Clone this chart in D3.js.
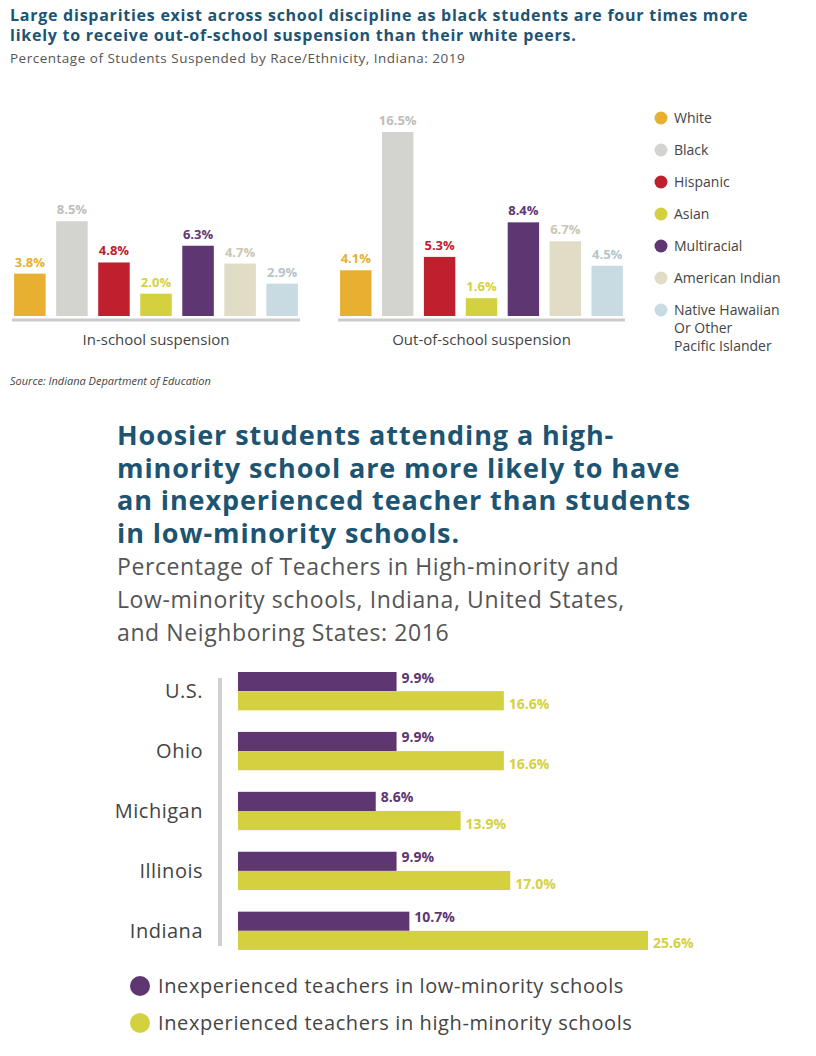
<!DOCTYPE html><html><head><meta charset="utf-8"><script src="https://cdn.jsdelivr.net/npm/d3@7"></script>
<style>body{margin:0;background:#fff}text{font-family:"Open Sans",sans-serif}</style></head><body><svg id="c" width="816" height="1056"></svg>
<script>
const races=["White","Black","Hispanic","Asian","Multiracial","American Indian","Native Hawaiian Or Other Pacific Islander"];
const raceColors=["#e8b030","#d3d3cf","#c0202e","#d4d140","#5e3672","#e0dcc6","#c8dbe2"];
const groups=["In-school suspension","Out-of-school suspension"];
const inSchool=[3.8,8.5,4.8,2.0,6.3,4.7,2.9];
const outSchool=[4.1,16.5,5.3,1.6,8.4,6.7,4.5];
const states=["U.S.","Ohio","Michigan","Illinois","Indiana"];
const lowMinority=[9.9,9.9,8.6,9.9,10.7];
const highMinority=[16.6,16.6,13.9,17.0,25.6];
const seriesNames=["Inexperienced teachers in low-minority schools","Inexperienced teachers in high-minority schools"];
const seriesColors=["#5e3672","#d4d140"];

const svg=d3.select("#c");
const title="#1d5472";
svg.append("text").attr("x",10).attr("y",21).attr("font-size",16).attr("letter-spacing",0.75).attr("font-weight",700).attr("fill",title).text("Large disparities exist across school discipline as black students are four times more");
svg.append("text").attr("x",10).attr("y",41).attr("font-size",16).attr("letter-spacing",0.75).attr("font-weight",700).attr("fill",title).text("likely to receive out-of-school suspension than their white peers.");
svg.append("text").attr("x",10).attr("y",63).attr("font-size",13.5).attr("letter-spacing",0.5).attr("fill","#555").text("Percentage of Students Suspended by Race/Ethnicity, Indiana: 2019");

const y=d3.scaleLinear().domain([0,16.5]).range([316,132]);
[[inSchool,12,300],[outSchool,338,625]].forEach(([vals,x0,x1],gi)=>{
  const x=d3.scaleBand().domain(races).range([x0,x1]).paddingInner(0.25).paddingOuter(0.05);
  const g=svg.append("g");
  g.selectAll("rect").data(vals).join("rect").attr("x",(d,i)=>x(races[i])).attr("width",x.bandwidth())
    .attr("y",d=>y(d)).attr("height",d=>y(0)-y(d)).attr("fill",(d,i)=>raceColors[i]);
  g.selectAll("text.v").data(vals).join("text").attr("x",(d,i)=>x(races[i])+x.bandwidth()/2).attr("y",d=>y(d)-7)
    .attr("text-anchor","middle").attr("font-size",13).attr("font-weight",700).attr("fill",(d,i)=>i==1||i==5||i==6?d3.color(raceColors[i]).darker(0.3):raceColors[i]).text(d=>d.toFixed(1)+"%");
  g.append("line").attr("x1",x0).attr("x2",x1).attr("y1",320).attr("y2",320).attr("stroke","#ccc").attr("stroke-width",3);
  g.append("text").attr("x",(x0+x1)/2).attr("y",345).attr("text-anchor","middle").attr("font-size",15).attr("fill","#444").text(groups[gi]);
});
const lg=svg.append("g");
races.forEach((r,i)=>{
  const cy=118+i*32;
  lg.append("circle").attr("cx",661).attr("cy",cy).attr("r",6.5).attr("fill",raceColors[i]);
  const lines=i==6?["Native Hawaiian","Or Other","Pacific Islander"]:[r];
  lines.forEach((t,j)=>lg.append("text").attr("x",674).attr("y",cy+5+j*18).attr("font-size",14).attr("fill","#444").text(t));
});
svg.append("text").attr("x",10).attr("y",385).attr("font-size",11).attr("font-style","italic").attr("fill","#444").text("Source: Indiana Department of Education");

["Hoosier students attending a high-","minority school are more likely to have","an inexperienced teacher than students","in low-minority schools."].forEach((t,i)=>
  svg.append("text").attr("x",117).attr("y",445+i*32.5).attr("font-size",27).attr("letter-spacing",0.9).attr("font-weight",700).attr("fill",title).text(t));
["Percentage of Teachers in High-minority and","Low-minority schools, Indiana, United States,","and Neighboring States: 2016"].forEach((t,i)=>
  svg.append("text").attr("x",117).attr("y",575+i*33).attr("font-size",23).attr("letter-spacing",0.6).attr("fill","#555").text(t));

const xs=d3.scaleLinear().domain([0,25.6]).range([238,648]);
const ys=d3.scaleBand().domain(states).range([669,953]).paddingInner(0.36).paddingOuter(0.05);
const h=ys.bandwidth()/2;
svg.append("line").attr("x1",220).attr("x2",220).attr("y1",678).attr("y2",946).attr("stroke","#d0d0cc").attr("stroke-width",4);
[lowMinority,highMinority].forEach((vals,si)=>{
  svg.append("g").selectAll("rect").data(vals).join("rect").attr("x",xs(0)).attr("y",(d,i)=>ys(states[i])+si*h)
    .attr("width",d=>xs(d)-xs(0)).attr("height",h).attr("fill",seriesColors[si]);
  svg.append("g").selectAll("text").data(vals).join("text").attr("x",d=>xs(d)+5).attr("y",(d,i)=>ys(states[i])+si*h+h/2+(si?8:1))
    .attr("font-size",14).attr("font-weight",700).attr("fill",seriesColors[si]).text(d=>d.toFixed(1)+"%");
});
svg.append("g").selectAll("text").data(states).join("text").attr("x",203).attr("y",d=>ys(d)+h+7).attr("text-anchor","end")
  .attr("font-size",20).attr("letter-spacing",0.5).attr("fill","#444").text(d=>d);
seriesNames.forEach((s,i)=>{
  svg.append("circle").attr("cx",140).attr("cy",986+i*37).attr("r",10).attr("fill",seriesColors[i]);
  svg.append("text").attr("x",158).attr("y",993+i*37).attr("font-size",20).attr("letter-spacing",0.6).attr("fill","#444").text(s);
});
</script></body></html>
